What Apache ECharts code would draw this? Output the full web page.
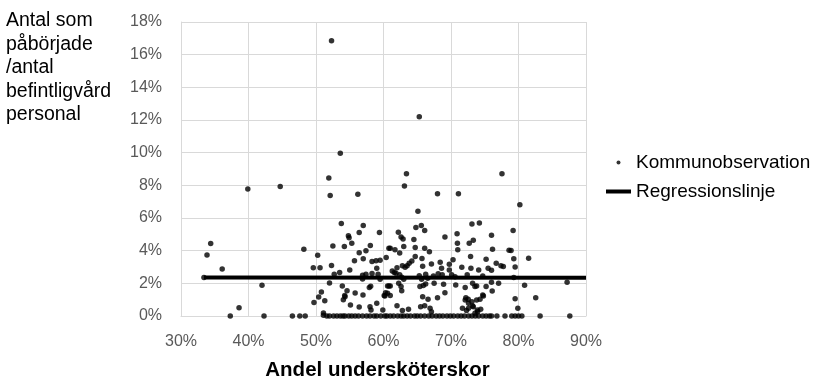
<!DOCTYPE html>
<html>
<head>
<meta charset="utf-8">
<script src="https://cdn.jsdelivr.net/npm/echarts@6/dist/echarts.min.js"></script>
<style>
  html, body { margin: 0; padding: 0; background: #fff; }
  #chart { width: 819px; height: 380px; }
</style>
</head>
<body>
<div id="chart"></div>
<script>
// Axis ticks (percent)
const xTicks = [30, 40, 50, 60, 70, 80, 90];
const yTicks = [0, 2, 4, 6, 8, 10, 12, 14, 16, 18];

// Municipality observations with a non-zero share: [andel undersköterskor %, andel påbörjade %]
const obsNonZero = [
  [52.3,16.85],[53.6,9.96],[65.3,12.2],[39.9,7.77],[44.7,7.93],[51.9,8.45],[52.1,7.38],[56.2,7.46],
  [63.4,8.71],[63.1,7.96],[68.0,7.48],[71.1,7.48],[65.1,6.42],[77.55,8.71],[80.2,6.81],
  [34.4,4.44],[33.85,3.74],[36.1,2.88],[33.4,2.35],[42.0,1.88],[38.6,0.51],
  [48.2,4.09],[53.75,5.66],[57.0,5.54],[54.8,4.91],[54.9,4.79],[56.4,5.11],[59.4,5.11],[52.5,4.29],
  [54.2,4.25],[55.3,4.46],[56.4,3.88],[57.4,4.0],[58.05,4.31],[60.8,4.15],[50.25,3.72],[49.6,2.96],
  [50.6,2.96],[52.3,3.09],[55.7,3.39],[57.0,3.5],[58.3,3.33],[58.9,3.39],[59.5,3.42],[60.4,3.58],
  [55.0,2.82],[52.7,2.56],[53.5,2.66],[59.0,2.92],[56.9,2.5],[57.4,2.56],[58.3,2.6],[59.2,2.56],
  [56.9,2.27],[59.5,2.25],[52.0,2.02],[53.9,1.84],[54.6,1.55],[54.25,1.25],[55.8,1.41],[56.96,1.29],
  [57.9,1.74],[58.1,1.82],[60.8,1.84],[50.8,1.47],[50.4,1.17],[51.3,0.94],[49.7,0.82],[54.05,1.0],
  [54.3,1.18],[55.1,0.67],[56.4,0.55],[58.0,0.57],[58.15,0.37],[59.0,0.78],[59.9,0.37],[60.2,1.23],
  [60.6,1.39],[51.1,0.18],[51.1,0.05],
  [62.2,5.13],[62.6,4.83],[62.9,4.72],[64.8,5.42],[65.6,5.54],[66.1,5.23],[64.5,4.68],[69.1,4.83],
  [70.9,5.03],[70.95,4.46],[71.0,4.05],[73.1,5.63],[74.2,5.69],[72.7,4.46],[73.3,4.64],[61.0,4.15],
  [61.7,4.05],[63.0,4.25],[64.7,4.19],[66.1,4.15],[66.8,3.94],[62.4,3.85],[64.7,3.64],[64.2,3.37],
  [63.8,3.23],[63.5,3.07],[65.7,3.52],[62.0,2.96],[62.8,3.07],[63.2,2.99],[65.8,3.05],[67.1,3.19],
  [68.4,3.29],[68.6,2.93],[69.75,3.17],[69.75,2.82],[70.3,3.44],[71.6,2.99],[72.9,3.64],[72.95,2.93],
  [74.1,2.82],[61.3,2.76],[61.6,2.66],[61.85,2.62],[62.4,2.52],[62.7,2.37],[63.0,2.25],[65.3,2.47],
  [65.65,2.25],[66.25,2.56],[66.55,2.31],[67.4,2.45],[68.1,2.58],[68.7,2.52],[70.1,2.52],[70.6,2.41],
  [72.4,2.52],[62.25,2.0],[62.6,1.8],[62.7,1.55],[60.6,1.84],[61.0,1.84],[65.4,1.8],[65.9,1.86],
  [66.25,1.96],[67.5,2.0],[68.9,1.94],[70.7,1.9],[72.1,1.74],[73.8,1.84],[60.3,1.43],[60.1,1.25],
  [61.0,1.25],[69.1,1.43],[65.8,1.18],[66.6,1.02],[68.0,1.12],[72.2,1.12],[72.55,1.02],[73.1,0.88],
  [65.5,0.57],[66.1,0.63],[66.9,0.47],[62.0,0.63],[62.8,0.33],[63.7,0.41],[71.7,0.47],[73.3,0.57],
  [73.9,0.37],[67.1,0.26],
  [79.2,5.23],[76.0,4.95],[76.15,4.09],[78.6,4.03],[78.9,4.01],[75.2,3.48],[79.3,3.5],[81.5,3.54],
  [76.7,3.23],[77.4,3.07],[77.75,3.03],[75.5,2.93],[76.0,2.8],[79.5,3.0],[74.7,2.45],[79.3,2.35],
  [73.2,2.0],[73.55,1.8],[75.2,1.8],[76.0,2.07],[77.05,2.0],[80.9,1.88],[87.2,2.07],[76.1,1.53],
  [74.8,1.23],[74.3,1.02],[79.5,1.06],[82.55,1.12],[73.2,0.61],[74.4,0.41],[73.55,0.17],[79.9,0.47],
  [72.1,0.98],[72.6,0.78],[73.8,0.98],[74.7,1.29],[72.3,0.33],[72.6,0.47],[73.95,0.26]
];

// Municipalities where nobody started (0 %): andel undersköterskor %
const obsZeroX = [
  37.3, 42.3, 46.5, 47.6, 48.4, 51.6, 52.0, 52.6, 53.1, 53.6, 54.0, 54.3, 54.85, 55.3, 55.8,
  56.3, 56.9, 57.5, 58.0, 58.6, 59.0, 59.6, 60.2, 60.5, 61.0, 61.5, 62.1, 62.6, 63.0, 63.5,
  64.0, 64.6, 65.0, 65.5, 66.1, 66.7, 67.2, 67.8, 68.3, 68.8, 69.4, 69.9, 70.4, 71.0, 71.5,
  72.0, 72.6, 73.1, 73.6, 74.1, 74.7, 75.2, 75.7, 76.0, 76.8, 78.0, 79.0, 79.5, 80.0, 80.5,
  83.2, 87.6
];

// Fitted regression line end points
const regressionLine = [[33.4, 2.36], [90, 2.34]];

const scatterData = obsNonZero.concat(obsZeroX.map(x => [x, 0]));

const FONT = '"Liberation Sans", Arial, sans-serif';
const chart = echarts.init(document.getElementById('chart'), null, { renderer: 'canvas' });

chart.setOption({
  animation: false,
  backgroundColor: '#ffffff',
  textStyle: { fontFamily: FONT },
  grid: {
    left: 181, right: 233, top: 22, bottom: 64,
    containLabel: false,
    outerBoundsMode: 'none'
  },
  legend: {
    orient: 'vertical',
    left: 601,
    top: 148,
    itemWidth: 25,
    itemHeight: 4,
    itemGap: 10,
    textStyle: { fontFamily: FONT, fontSize: 19, color: '#000', lineHeight: 18 },
    data: [
      { name: 'Kommunobservation', icon: 'circle', itemStyle: { color: '#000' } },
      { name: 'Regressionslinje', icon: 'rect', itemStyle: { color: '#000' } }
    ]
  },
  xAxis: {
    type: 'value',
    min: xTicks[0],
    max: xTicks[xTicks.length - 1],
    interval: 10,
    name: 'Andel undersköterskor',
    nameLocation: 'middle',
    nameGap: 44,
    nameTextStyle: {
      fontFamily: FONT, fontSize: 20.5, fontWeight: 'bold', color: '#000',
      padding: [0, 12, 0, 0]
    },
    axisLine: { show: true, lineStyle: { color: '#d9d9d9', width: 1 } },
    axisTick: { show: false },
    splitLine: { show: true, lineStyle: { color: '#d9d9d9', width: 1 } },
    axisLabel: { fontFamily: FONT, fontSize: 16, color: '#595959', margin: 18, formatter: '{value}%' }
  },
  yAxis: {
    type: 'value',
    min: yTicks[0],
    max: yTicks[yTicks.length - 1],
    interval: 2,
    axisLine: { show: true, lineStyle: { color: '#d9d9d9', width: 1 } },
    axisTick: { show: false },
    splitLine: { show: true, lineStyle: { color: '#d9d9d9', width: 1 } },
    axisLabel: { fontFamily: FONT, fontSize: 16, color: '#595959', margin: 19, formatter: '{value}%' }
  },
  graphic: [{
    type: 'text',
    left: 6,
    top: 9,
    style: {
      text: 'Antal som\npåbörjade\n/antal\nbefintligvård\npersonal',
      fontFamily: FONT,
      fontSize: 19.5,
      lineHeight: 23.5,
      fill: '#000'
    }
  }],
  series: [
    {
      name: 'Kommunobservation',
      type: 'scatter',
      symbol: 'circle',
      symbolSize: 5.5,
      itemStyle: { color: '#000' },
      data: scatterData,
      z: 2
    },
    {
      name: 'Regressionslinje',
      type: 'line',
      showSymbol: false,
      symbol: 'none',
      lineStyle: { color: '#000', width: 4 },
      data: regressionLine,
      z: 3
    }
  ]
});
</script>
</body>
</html>
